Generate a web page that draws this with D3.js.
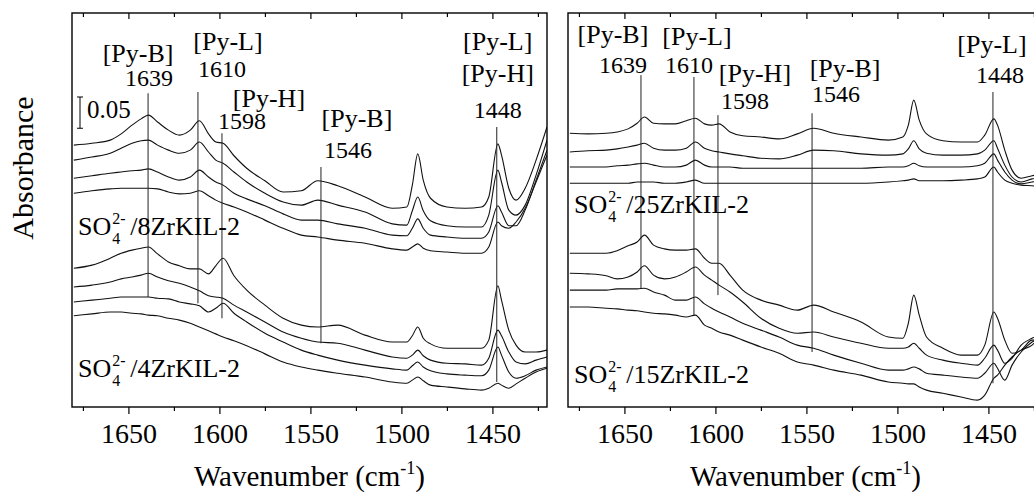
<!DOCTYPE html>
<html lang="en">
<head>
<meta charset="utf-8"/>
<title>Py-IR spectra of SO4/ZrKIL-2</title>
<script src="https://d3js.org/d3.v7.min.js"></script>
<style>
  body { margin: 0; background: #fff; }
  text { font-family: "Liberation Serif", "Times New Roman", serif; fill: #000; }
</style>
</head>
<body>
<script>
// wavenumber grid shared by every spectrum (cm-1)
const wavenumbers = [1680, 1670, 1660, 1654, 1648, 1643, 1639, 1634, 1628, 1622,
    1616, 1611, 1606, 1602, 1598, 1592, 1585, 1575, 1565, 1555,
    1546, 1535, 1520, 1505, 1497, 1494, 1491, 1488, 1484, 1475,
    1465, 1456, 1452, 1447, 1445, 1441, 1437, 1432, 1426, 1420];

// absorbance (offset stacked)
// SO4/8ZrKIL-2, top to bottom
const zr8 = [
    [0.419, 0.422, 0.427, 0.437, 0.451, 0.461, 0.467, 0.456, 0.443, 0.435, 0.443, 0.458, 0.437, 0.424, 0.422, 0.402, 0.382, 0.362, 0.344, 0.346, 0.362, 0.354, 0.336, 0.318, 0.320, 0.355, 0.405, 0.363, 0.334, 0.320, 0.318, 0.320, 0.336, 0.421, 0.403, 0.350, 0.331, 0.350, 0.395, 0.448],
    [0.395, 0.400, 0.406, 0.414, 0.422, 0.426, 0.427, 0.419, 0.411, 0.406, 0.411, 0.424, 0.408, 0.395, 0.390, 0.376, 0.360, 0.342, 0.328, 0.323, 0.331, 0.323, 0.312, 0.293, 0.291, 0.314, 0.336, 0.314, 0.298, 0.290, 0.288, 0.288, 0.307, 0.379, 0.360, 0.315, 0.307, 0.323, 0.371, 0.427],
    [0.366, 0.370, 0.374, 0.376, 0.378, 0.379, 0.381, 0.376, 0.368, 0.363, 0.368, 0.379, 0.368, 0.360, 0.355, 0.342, 0.333, 0.322, 0.309, 0.299, 0.299, 0.293, 0.286, 0.275, 0.274, 0.286, 0.301, 0.286, 0.275, 0.272, 0.270, 0.270, 0.280, 0.322, 0.312, 0.290, 0.290, 0.315, 0.363, 0.411],
    [0.342, 0.346, 0.349, 0.350, 0.350, 0.350, 0.350, 0.349, 0.344, 0.341, 0.342, 0.346, 0.338, 0.331, 0.326, 0.320, 0.312, 0.299, 0.286, 0.275, 0.272, 0.267, 0.262, 0.253, 0.251, 0.256, 0.261, 0.254, 0.250, 0.248, 0.246, 0.246, 0.256, 0.296, 0.290, 0.286, 0.296, 0.318, 0.360, 0.403]
];
// SO4/4ZrKIL-2
const zr4 = [
    [0.222, 0.227, 0.238, 0.246, 0.251, 0.254, 0.256, 0.245, 0.232, 0.226, 0.221, 0.221, 0.213, 0.226, 0.238, 0.210, 0.187, 0.163, 0.142, 0.131, 0.128, 0.131, 0.115, 0.104, 0.104, 0.114, 0.128, 0.110, 0.101, 0.094, 0.094, 0.094, 0.107, 0.194, 0.171, 0.123, 0.099, 0.088, 0.088, 0.091],
    [0.192, 0.195, 0.200, 0.205, 0.208, 0.211, 0.214, 0.208, 0.202, 0.198, 0.192, 0.186, 0.178, 0.176, 0.174, 0.163, 0.152, 0.136, 0.120, 0.110, 0.104, 0.102, 0.091, 0.080, 0.078, 0.083, 0.091, 0.082, 0.075, 0.070, 0.069, 0.067, 0.078, 0.123, 0.114, 0.088, 0.072, 0.069, 0.075, 0.080],
    [0.168, 0.171, 0.174, 0.176, 0.176, 0.176, 0.176, 0.174, 0.173, 0.168, 0.165, 0.162, 0.152, 0.158, 0.166, 0.150, 0.136, 0.118, 0.104, 0.091, 0.083, 0.075, 0.067, 0.061, 0.059, 0.066, 0.072, 0.064, 0.058, 0.053, 0.051, 0.050, 0.059, 0.096, 0.083, 0.056, 0.046, 0.050, 0.059, 0.064],
    [0.146, 0.149, 0.152, 0.152, 0.150, 0.149, 0.147, 0.146, 0.142, 0.139, 0.134, 0.128, 0.122, 0.117, 0.112, 0.106, 0.098, 0.085, 0.072, 0.064, 0.059, 0.054, 0.048, 0.040, 0.038, 0.043, 0.048, 0.042, 0.035, 0.032, 0.029, 0.027, 0.030, 0.038, 0.035, 0.030, 0.037, 0.046, 0.056, 0.062]
];
// SO4/25ZrKIL-2
const zr25 = [
    [0.438, 0.437, 0.438, 0.440, 0.445, 0.454, 0.464, 0.454, 0.453, 0.453, 0.458, 0.462, 0.453, 0.451, 0.453, 0.440, 0.434, 0.432, 0.429, 0.437, 0.446, 0.438, 0.432, 0.427, 0.432, 0.451, 0.491, 0.459, 0.437, 0.426, 0.424, 0.424, 0.435, 0.461, 0.451, 0.411, 0.379, 0.366, 0.370, 0.373],
    [0.408, 0.410, 0.411, 0.413, 0.416, 0.419, 0.422, 0.414, 0.411, 0.411, 0.414, 0.424, 0.414, 0.410, 0.408, 0.405, 0.402, 0.398, 0.397, 0.403, 0.411, 0.410, 0.405, 0.403, 0.405, 0.413, 0.426, 0.413, 0.406, 0.403, 0.403, 0.405, 0.411, 0.426, 0.414, 0.387, 0.368, 0.360, 0.365, 0.368],
    [0.384, 0.384, 0.384, 0.386, 0.387, 0.389, 0.390, 0.387, 0.384, 0.384, 0.387, 0.395, 0.387, 0.384, 0.384, 0.384, 0.382, 0.382, 0.382, 0.382, 0.382, 0.382, 0.382, 0.384, 0.384, 0.386, 0.390, 0.386, 0.384, 0.384, 0.384, 0.386, 0.390, 0.405, 0.395, 0.376, 0.363, 0.357, 0.360, 0.363],
    [0.358, 0.358, 0.358, 0.358, 0.358, 0.360, 0.360, 0.360, 0.358, 0.358, 0.360, 0.363, 0.358, 0.358, 0.358, 0.358, 0.358, 0.358, 0.358, 0.358, 0.358, 0.358, 0.358, 0.360, 0.362, 0.363, 0.365, 0.362, 0.362, 0.362, 0.363, 0.365, 0.368, 0.384, 0.376, 0.363, 0.358, 0.355, 0.354, 0.352]
];
// SO4/15ZrKIL-2
const zr15 = [
    [0.246, 0.246, 0.246, 0.250, 0.258, 0.264, 0.275, 0.259, 0.253, 0.251, 0.251, 0.253, 0.238, 0.230, 0.230, 0.211, 0.187, 0.171, 0.163, 0.155, 0.163, 0.152, 0.136, 0.112, 0.110, 0.134, 0.179, 0.147, 0.112, 0.094, 0.083, 0.083, 0.099, 0.152, 0.142, 0.107, 0.086, 0.091, 0.107, 0.107],
    [0.214, 0.213, 0.210, 0.205, 0.208, 0.216, 0.226, 0.211, 0.205, 0.208, 0.216, 0.224, 0.211, 0.203, 0.195, 0.184, 0.168, 0.142, 0.126, 0.118, 0.120, 0.112, 0.102, 0.094, 0.094, 0.096, 0.102, 0.094, 0.083, 0.075, 0.070, 0.067, 0.078, 0.099, 0.091, 0.070, 0.078, 0.099, 0.110, 0.118],
    [0.187, 0.187, 0.187, 0.189, 0.189, 0.189, 0.190, 0.184, 0.179, 0.171, 0.171, 0.176, 0.165, 0.158, 0.152, 0.144, 0.134, 0.123, 0.112, 0.099, 0.094, 0.083, 0.070, 0.059, 0.059, 0.061, 0.064, 0.061, 0.054, 0.051, 0.048, 0.046, 0.054, 0.070, 0.062, 0.043, 0.067, 0.088, 0.104, 0.112],
    [0.160, 0.160, 0.158, 0.157, 0.155, 0.154, 0.152, 0.150, 0.149, 0.147, 0.144, 0.147, 0.131, 0.126, 0.120, 0.115, 0.107, 0.096, 0.086, 0.072, 0.067, 0.059, 0.051, 0.040, 0.038, 0.037, 0.037, 0.032, 0.027, 0.022, 0.016, 0.011, 0.019, 0.046, 0.051, 0.067, 0.080, 0.091, 0.099, 0.120]
];

const majorTicks = [1650, 1600, 1550, 1500, 1450];
const minorTicks = [1675, 1625, 1575, 1525, 1475, 1425];

// band markers: position, line extent (absorbance) and label lines
const leftMarks = [
    {pos: 1639.2, top: 0.502, bottom: 0.176, labels: [["[Py-B]", -10, -31, 26], ["1639", 1, -7, 24]]},
    {pos: 1611.8, top: 0.504, bottom: 0.166, labels: [["[Py-L]", 30, -42, 26], ["1610", 24, -15, 24]]},
    {pos: 1598.6, top: 0.438, bottom: 0.142, labels: [["[Py-H]", 47, -26, 26], ["1598", 20, -4, 24]]},
    {pos: 1544.2, top: 0.384, bottom: 0.102, labels: [["[Py-B]", 36, -40, 26], ["1546", 27, -9, 24]]},
    {pos: 1447.6, top: 0.448, bottom: 0.040, labels: [["[Py-L]", 1, -77, 26], ["[Py-H]", 1, -45, 26], ["1448", 1, -9, 24]]}
];
const rightMarks = [
    {pos: 1640.9, top: 0.531, bottom: 0.190, labels: [["[Py-B]", -28, -32, 26], ["1639", -18, -2, 24]]},
    {pos: 1611.8, top: 0.528, bottom: 0.147, labels: [["[Py-L]", 3, -32, 26], ["1610", -5, -4, 24]]},
    {pos: 1598.6, top: 0.467, bottom: 0.179, labels: [["[Py-H]", 37, -33, 26], ["1598", 27, -6, 24]]},
    {pos: 1546.9, top: 0.470, bottom: 0.088, labels: [["[Py-B]", 33, -36, 26], ["1546", 24, -11, 24]]},
    {pos: 1447.5, top: 0.504, bottom: 0.038, labels: [["[Py-L]", -1, -39, 26], ["1448", 7, -9, 24]]}
];

const panels = [
    {left: 72, groups: [{name: "8ZrKIL-2", series: zr8, labelY: 0.275}, {name: "4ZrKIL-2", series: zr4, labelY: 0.048}], marks: leftMarks, bar: true},
    {left: 568, groups: [{name: "25ZrKIL-2", series: zr25, labelY: 0.310}, {name: "15ZrKIL-2", series: zr15, labelY: 0.038}], marks: rightMarks, bar: false}
];

const W = 1034, H = 492;
const plotTop = 13, plotBottom = 407, plotW = 475;
const svg = d3.select("body").append("svg").attr("width", W).attr("height", H);

const y = d3.scaleLinear().domain([0, 0.6304]).range([plotBottom, plotTop]);

panels.forEach((p, pi) => {
    const x = d3.scaleLinear().domain([1681, 1420]).range([p.left, p.left + plotW]);
    const g = svg.append("g");

    g.append("clipPath").attr("id", "clip" + pi)
        .append("rect").attr("x", p.left).attr("y", plotTop).attr("width", plotW).attr("height", plotBottom - plotTop);

    // spectra
    const line = d3.line()
        .x((d, i) => x(wavenumbers[i]))
        .y(d => y(d))
        .curve(d3.curveMonotoneX);
    p.groups.forEach(grp => {
        g.append("g").attr("clip-path", `url(#clip${pi})`)
            .selectAll("path").data(grp.series).enter().append("path")
            .attr("d", line)
            .attr("fill", "none")
            .attr("stroke", "#111")
            .attr("stroke-width", 1.1);
    });

    // band lines + labels
    p.marks.forEach(m => {
        const mx = x(m.pos);
        g.append("line")
            .attr("x1", mx).attr("x2", mx)
            .attr("y1", y(m.top)).attr("y2", y(m.bottom))
            .attr("stroke", "#222").attr("stroke-width", 1);
        m.labels.forEach(l => {
            g.append("text")
                .attr("x", mx + l[1]).attr("y", y(m.top) + l[2])
                .attr("text-anchor", "middle")
                .attr("font-size", l[3])
                .text(l[0]);
        });
    });

    // sample labels SO4(2-)/xZrKIL-2
    p.groups.forEach(grp => {
        const lx = p.left + 6, ly = y(grp.labelY);
        const so = g.append("text").attr("x", lx).attr("y", ly).attr("font-size", 26).text("SO");
        const w = so.node().getComputedTextLength();
        g.append("text").attr("x", lx + w + 1).attr("y", ly - 11).attr("font-size", 16).text("2-");
        g.append("text").attr("x", lx + w + 1).attr("y", ly + 9).attr("font-size", 16).text("4");
        g.append("text").attr("x", lx + w + 19).attr("y", ly).attr("font-size", 26).text("/" + grp.name);
    });

    // 0.05 scale bar
    if (p.bar) {
        const bx = p.left + 8, b0 = y(0.446), b1 = y(0.496);
        g.append("line").attr("x1", bx).attr("x2", bx).attr("y1", b0).attr("y2", b1).attr("stroke", "#000");
        [b0, b1].forEach(v => g.append("line").attr("x1", bx - 3).attr("x2", bx + 3).attr("y1", v).attr("y2", v).attr("stroke", "#000"));
        g.append("text").attr("x", bx + 7).attr("y", b0 - 10).attr("font-size", 25).text("0.05");
    }

    // axes: bottom ticks out, top ticks in
    const bottomAxis = g.append("g").attr("transform", `translate(0,${plotBottom})`)
        .call(d3.axisBottom(x).tickValues(majorTicks).tickSize(7).tickPadding(9).tickFormat(d3.format("d")));
    bottomAxis.select(".domain").remove();
    bottomAxis.selectAll("text").attr("font-size", 28).attr("font-family", "Liberation Serif");
    g.append("g").attr("transform", `translate(0,${plotBottom})`)
        .call(d3.axisBottom(x).tickValues(minorTicks).tickSize(4).tickFormat(""))
        .select(".domain").remove();
    g.append("g").attr("transform", `translate(0,${plotTop})`)
        .call(d3.axisBottom(x).tickValues(majorTicks).tickSize(6).tickFormat(""))
        .select(".domain").remove();
    g.append("g").attr("transform", `translate(0,${plotTop})`)
        .call(d3.axisBottom(x).tickValues(minorTicks).tickSize(4).tickFormat(""))
        .select(".domain").remove();
    g.selectAll(".tick line").attr("stroke", "#000").attr("stroke-width", 1.2);

    // frame
    g.append("rect").attr("x", p.left).attr("y", plotTop).attr("width", plotW).attr("height", plotBottom - plotTop)
        .attr("fill", "none").attr("stroke", "#000").attr("stroke-width", 1.4);

    // x title
    const t = g.append("text").attr("x", p.left + plotW / 2).attr("y", 486)
        .attr("text-anchor", "middle").attr("font-size", 29);
    t.append("tspan").text("Wavenumber (cm");
    t.append("tspan").attr("font-size", 18).attr("dy", -12).text("-1");
    t.append("tspan").attr("dy", 12).text(")");
});

svg.append("text")
    .attr("transform", "translate(33,168) rotate(-90)")
    .attr("text-anchor", "middle")
    .attr("font-size", 30)
    .text("Absorbance");
</script>
</body>
</html>
